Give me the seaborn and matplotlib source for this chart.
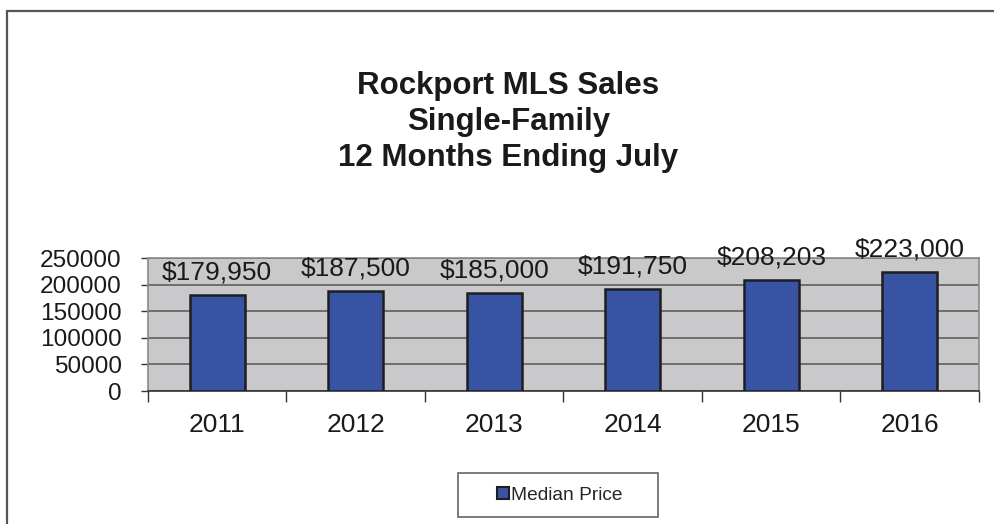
"""Rockport MLS Sales - median price per year, bar chart."""

import matplotlib

matplotlib.use("Agg")
import matplotlib.pyplot as plt
from matplotlib.lines import Line2D
from matplotlib.patches import Patch, Rectangle
import numpy as np
import seaborn as sns

# Data
years = ["2011", "2012", "2013", "2014", "2015", "2016"]
median_price = [179950, 187500, 185000, 191750, 208203, 223000]
y_ticks = [0, 50000, 100000, 150000, 200000, 250000]
series_name = "Median Price"
title_lines = ["Rockport MLS Sales", "Single-Family", "12 Months Ending July"]

BAR_COLOR = "#3853A4"
EDGE_COLOR = "#1e1e1e"
PLOT_BG = "#C9C9CB"
GRID_COLOR = "#555555"

sns.set_theme(style="white")
plt.rcParams["font.family"] = ["Liberation Sans", "DejaVu Sans"]

fig = plt.figure(figsize=(9.95, 5.24), dpi=100)
ax = fig.add_axes([148 / 995, 1 - 391 / 524, (979 - 148) / 995, (391 - 258) / 524])
ax.set_facecolor(PLOT_BG)

sns.barplot(
    x=years,
    y=median_price,
    color=BAR_COLOR,
    saturation=1,
    width=0.4,
    edgecolor=EDGE_COLOR,
    linewidth=1.8,
    ax=ax,
    zorder=3,
)

# Value labels above the bars
ax.bar_label(
    ax.containers[0],
    labels=[f"${v:,}" for v in median_price],
    padding=7.5,
    fontsize=19,
    color="#1a1a1a",
    clip_on=False,
)

ax.set_ylim(0, 250000)
ax.set_xlim(-0.5, len(years) - 0.5)
ax.set_yticks(y_ticks)
ax.set_yticklabels([str(t) for t in y_ticks])
ax.yaxis.grid(True, color=GRID_COLOR, linewidth=1.1)
ax.set_axisbelow(True)
ax.set_xlabel("")
ax.set_ylabel("")

# Tick marks: y ticks outward, x ticks at category boundaries
ax.tick_params(axis="y", which="major", left=True, direction="out", length=5,
               width=1, color="#333333", pad=14, labelsize=17.6, labelcolor="#1a1a1a")
ax.tick_params(axis="x", which="major", bottom=False, pad=10, labelsize=19,
               labelcolor="#1a1a1a")
ax.set_xticks(np.arange(-0.5, len(years)), minor=True)
ax.tick_params(axis="x", which="minor", bottom=True, direction="out", length=8,
               width=1, color="#333333")

for side in ["top", "right", "left"]:
    ax.spines[side].set_color("#8a8a8a")
    ax.spines[side].set_linewidth(1.2)
ax.spines["bottom"].set_color("#333333")
ax.spines["bottom"].set_linewidth(1.2)

# Title
fig.text(0.511, 1 - 122 / 524, "\n".join(title_lines), ha="center", va="center",
         fontsize=22.5, fontweight="bold", color="#1a1a1a", linespacing=1.24)

# Legend box below the chart
fig.patches.append(Rectangle((458 / 995, 1 - 517 / 524), 200 / 995, 44 / 524,
                             transform=fig.transFigure, facecolor="white",
                             edgecolor="#666666", linewidth=1.2))
handle = Patch(facecolor=BAR_COLOR, edgecolor=EDGE_COLOR, linewidth=1.5, label=series_name)
fig.legend(handles=[handle], loc="center", bbox_to_anchor=(560 / 995, 1 - 495 / 524),
           frameon=False, fontsize=13.8, handlelength=0.6, handleheight=0.6,
           handletextpad=0.15, borderpad=0)

# Outer border (top and left edges visible)
fig.add_artist(Line2D([7 / 995, 1], [1 - 11 / 524, 1 - 11 / 524],
                      transform=fig.transFigure, color="#555555", linewidth=1.6))
fig.add_artist(Line2D([7 / 995, 7 / 995], [0, 1 - 11 / 524],
                      transform=fig.transFigure, color="#555555", linewidth=1.6))

fig.savefig("out.png", dpi=100)
plt.close(fig)
